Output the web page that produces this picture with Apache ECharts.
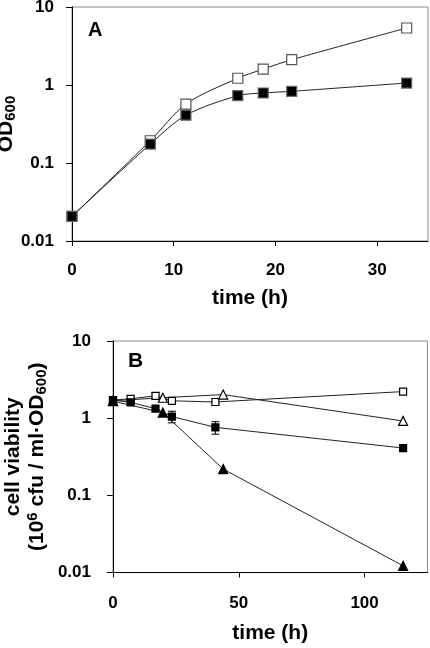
<!DOCTYPE html>
<html>
<head>
<meta charset="utf-8">
<script src="https://cdn.jsdelivr.net/npm/echarts@6/dist/echarts.min.js"></script>
<style>
html,body{margin:0;padding:0;background:#fff;}
#chart{width:430px;height:648px;}
</style>
</head>
<body>
<div id="chart"></div>
<script>
// Panel A: OD600 growth curves
const timeA = [0, 7.7, 11.2, 16.3, 18.8, 21.6, 32.9];
const odOpen = [0.0207, 0.193, 0.57, 1.22, 1.6, 2.11, 5.38];
const odFilled = [0.0207, 0.175, 0.41, 0.73, 0.79, 0.83, 1.06];
const ticksA = [0, 10, 20, 30];

// Panel B: cell viability
const timeBSq = [0, 7.0, 16.9, 23.4, 40.7, 115.3];
const viabOpenSq = [1.72, 1.78, 1.95, 1.68, 1.62, 2.21];
const viabFilledSq = [1.72, 1.6, 1.33, 1.05, 0.76, 0.41];
const timeBTri = [0, 19.8, 43.8, 115.3];
const viabOpenTri = [1.68, 1.84, 2.02, 0.92];
const viabFilledTri = [1.66, 1.18, 0.219, 0.0122];
const errTime = [16.9, 23.4, 40.7];
const errLow = [1.75, 0.87, 0.62];
const errHigh = [2.15, 1.23, 0.90];
const ticksB = [0, 50, 100];
const logTicks = ['0.01', '0.1', '1', '10'];

const zip = (xs, ys) => xs.map((x, i) => [x, ys[i]]);
const FONT = '"Liberation Sans", Arial, sans-serif';

const chart = echarts.init(document.getElementById('chart'), null, {renderer: 'canvas'});

const logLabel = v => {
  const s = Number(Number(v).toPrecision(3)).toString();
  return logTicks.indexOf(s) >= 0 ? s : '';
};

function xAxisCfg(grid, max, ticks, name, nameGap, margin) {
  return {
    type: 'value', gridIndex: grid, min: 0, max: max,
    axisLine: {show: true, lineStyle: {color: '#000', width: 1}},
    axisTick: {show: true, length: 5, customValues: ticks, lineStyle: {color: '#000'}},
    axisLabel: {customValues: ticks, fontSize: 17, fontWeight: 'bold', color: '#000', fontFamily: FONT, margin: margin},
    splitLine: {show: false},
    name: name, nameLocation: 'middle', nameGap: nameGap, nameMoveOverlap: false,
    nameTextStyle: {fontSize: 21, fontWeight: 'bold', color: '#000', fontFamily: FONT}
  };
}

function yAxisCfg(grid, name, nameGap, margin, lineHeight) {
  return {
    type: 'log', logBase: 10, gridIndex: grid, min: 0.01, max: 10,
    axisLine: {show: true, lineStyle: {color: '#000', width: 1}},
    axisTick: {show: true, length: 6, lineStyle: {color: '#000'}},
    minorTick: {show: false},
    axisLabel: {formatter: logLabel, fontSize: 17, fontWeight: 'bold', color: '#000', fontFamily: FONT, margin: margin},
    splitLine: {show: false},
    name: name, nameLocation: 'middle', nameRotate: 90, nameGap: nameGap, nameMoveOverlap: false,
    nameTextStyle: {
      fontSize: 21, fontWeight: 'bold', color: '#000', fontFamily: FONT,
      rich: {
        b: {fontSize: 21, fontWeight: 'bold', color: '#000', fontFamily: FONT, lineHeight: lineHeight},
        sub: {fontSize: 15, fontWeight: 'bold', color: '#000', fontFamily: FONT, lineHeight: 8, verticalAlign: 'bottom'},
        sup: {fontSize: 15, fontWeight: 'bold', color: '#000', fontFamily: FONT, lineHeight: 10, verticalAlign: 'top'}
      }
    }
  };
}

function lineSeries(xi, yi, data, symbol, size, fill, border, smooth) {
  return {
    type: 'line', xAxisIndex: xi, yAxisIndex: yi, data: data,
    symbol: symbol, symbolSize: size, smooth: smooth,
    showSymbol: true,
    lineStyle: {color: '#222', width: 1},
    itemStyle: {color: fill, borderColor: border, borderWidth: 1.2},
    emphasis: {disabled: true},
    animation: false
  };
}

const option = {
  animation: false,
  backgroundColor: '#fff',
  grid: [
    {left: 72, top: 7, width: 356, height: 234, outerBoundsMode: 'none', containLabel: false, show: true, borderColor: '#8a8a8a', borderWidth: 1, backgroundColor: 'transparent'},
    {left: 113, top: 341, width: 314.5, height: 231.5, outerBoundsMode: 'none', containLabel: false, show: true, borderColor: '#8a8a8a', borderWidth: 1, backgroundColor: 'transparent'}
  ],
  xAxis: [
    xAxisCfg(0, 35, ticksA, 'time (h)', 47, 21),
    xAxisCfg(1, 125, ticksB, 'time (h)', 50, 22)
  ],
  yAxis: [
    yAxisCfg(0, '{b|OD}{sub|600}', 54, 18, 24),
    yAxisCfg(1, '{b|cell viability}\n{b|(10}{sup|6}{b| cfu / ml·OD}{sub|600}{b|)}', 64, 22, 24)
  ],
  graphic: [
    {type: 'text', left: 88, top: 20, style: {text: 'A', fontSize: 20, fontWeight: 'bold', fill: '#000', fontFamily: FONT}},
    {type: 'text', left: 128, top: 351, style: {text: 'B', fontSize: 21, fontWeight: 'bold', fill: '#000', fontFamily: FONT}}
  ],
  series: [
    lineSeries(0, 0, zip(timeA, odOpen), 'rect', 10, '#fff', '#555', 0.3),
    lineSeries(0, 0, zip(timeA, odFilled), 'rect', 10, '#000', '#666', 0.3),
    {
      type: 'custom', xAxisIndex: 1, yAxisIndex: 1,
      data: errTime.map((t, i) => [t, errLow[i], errHigh[i]]),
      encode: {x: 0, y: [1, 2]},
      renderItem: function (params, api) {
        const x = api.value(0);
        const p1 = api.coord([x, api.value(1)]);
        const p2 = api.coord([x, api.value(2)]);
        const w = 4;
        const st = {stroke: '#000', lineWidth: 1};
        return {
          type: 'group',
          children: [
            {type: 'line', shape: {x1: p1[0], y1: p1[1], x2: p2[0], y2: p2[1]}, style: st},
            {type: 'line', shape: {x1: p1[0] - w, y1: p1[1], x2: p1[0] + w, y2: p1[1]}, style: st},
            {type: 'line', shape: {x1: p2[0] - w, y1: p2[1], x2: p2[0] + w, y2: p2[1]}, style: st}
          ]
        };
      },
      silent: true, z: 1, animation: false
    },
    lineSeries(1, 1, zip(timeBSq, viabOpenSq), 'rect', 7, '#fff', '#000', false),
    lineSeries(1, 1, zip(timeBTri, viabOpenTri), 'triangle', 9, '#fff', '#000', false),
    lineSeries(1, 1, zip(timeBSq, viabFilledSq), 'rect', 7, '#000', '#000', false),
    lineSeries(1, 1, zip(timeBTri, viabFilledTri), 'triangle', 9, '#000', '#000', false)
  ]
};

chart.setOption(option);
</script>
</body>
</html>
